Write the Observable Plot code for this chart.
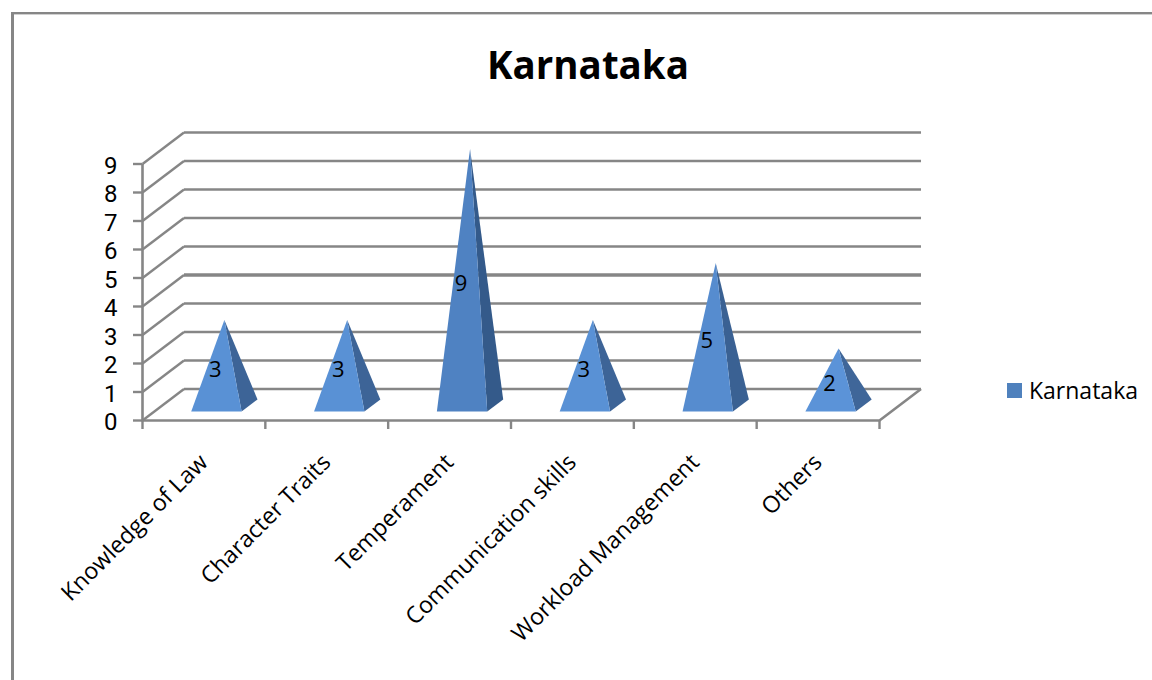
<!DOCTYPE html>
<html>
<head>
<meta charset="utf-8">
<script src="https://cdn.jsdelivr.net/npm/d3@7"></script>
<script src="https://cdn.jsdelivr.net/npm/@observablehq/plot@0.6"></script>
<style>
html,body{margin:0;padding:0;background:#fff;overflow:hidden;width:1152px;height:680px;font-family:"Open Sans",sans-serif}
#frame{position:absolute;left:11px;top:12px;width:1160px;height:700px;border-left:3px solid #868686;border-top:2px solid #868686;box-shadow:inset 0 1px 0 #d0d0d0}
#title{position:absolute;left:0;top:36px;width:1176px;text-align:center;font-size:38.5px;font-weight:700;color:#000;line-height:56px;height:56px;margin:0}
#chart{position:absolute;left:0;top:100px}
#legend{position:absolute;left:1007px;top:376px;display:flex;align-items:center;font-size:23px;color:#000;line-height:28px}
#legend i{display:block;width:15px;height:15px;background:#4f81bd;margin-right:7px}
</style>
</head>
<body>
<div id="frame"></div>
<h1 id="title">Karnataka</h1>
<div id="chart"></div>
<div id="legend"><i></i><span>Karnataka</span></div>
<script>
const seriesName = "Karnataka";
const categories = ["Knowledge of Law", "Character Traits", "Temperament", "Communication skills", "Workload Management", "Others"];
const values = [3, 3, 9, 3, 5, 2];
const yTicks = [0, 1, 2, 3, 4, 5, 6, 7, 8, 9];
const xEdges = [0, 1, 2, 3, 4, 5, 6];

// Oblique 3D: depth (0..1) is sheared into the x and y data units.
const depthX = 41.5 / 122.8;
const depthY = 31.5 / 28.5;
const project = (x, y, z) => ({x: x + z * depthX, y: y + z * depthY});

const barLeft = 0.30, barRight = 0.71, barFront = 0.286, barBack = 0.67;
const barMid = (barLeft + barRight) / 2, barCentre = (barFront + barBack) / 2;

const frontTone = d3.scaleLinear([2, 9], ["#5b93d8", "#4f82c2"]);
const sideTone = d3.scaleLinear([2, 9], ["#3f6699", "#345a8a"]);

const grid = "#868686";
const marks = [];

// back wall and side wall gridlines
for (const t of yTicks) {
  const w = t === 4 ? 3.6 : 2.6;
  if (t > 0) marks.push(Plot.line([project(0, t, 1), project(6, t, 1)], {x: "x", y: "y", stroke: grid, strokeWidth: w, strokeLinecap: "butt"}));
  marks.push(Plot.line([project(0, t, 0), project(0, t, 1)], {x: "x", y: "y", stroke: grid, strokeWidth: 2.4, strokeLinecap: "butt"}));
}
// floor edges and left axis line
marks.push(Plot.line([project(0, 0, 1), project(6, 0, 1)], {x: "x", y: "y", stroke: grid, strokeWidth: 2.6, strokeLinecap: "butt"}));
marks.push(Plot.line([project(6, 0, 1), project(6, 0, 0), project(0, 0, 0), project(0, 9, 0)], {x: "x", y: "y", stroke: grid, strokeWidth: 2.6, strokeLinecap: "butt"}));
marks.push(Plot.axisY({ticks: yTicks, tickSize: 9, text: null, stroke: grid, strokeWidth: 2.4, label: null}));
marks.push(Plot.text(yTicks, {x: () => 0, y: d => d, text: d => String(d), textAnchor: "end", fontSize: 24, fontFamily: "Roboto", fill: "#000", dx: -25, dy: 2}));
marks.push(Plot.axisX({ticks: xEdges, tickSize: 9, text: null, stroke: grid, strokeWidth: 2.4, label: null}));

// pyramids
values.forEach((v, i) => {
  const l = i + barLeft, r = i + barRight, m = i + barMid;
  const apex = project(m, v, barCentre);
  marks.push(Plot.line([project(r, 0, barFront), project(r, 0, barBack), apex], {x: "x", y: "y", fill: sideTone(v), stroke: "none"}));
  marks.push(Plot.line([project(l, 0, barFront), project(r, 0, barFront), apex], {x: "x", y: "y", fill: frontTone(v), stroke: "none"}));
});

// data labels
const labelRows = values.map((v, i) => ({...project(i + barMid, v / 2, barFront), v}));
marks.push(Plot.text(labelRows, {x: "x", y: "y", text: d => String(d.v), fontSize: 22, fill: "#000", dy: 1, dx: -1}));

// rotated category labels
const catRows = categories.map((c, i) => ({x: i + 0.5, y: 0, c}));
marks.push(Plot.text(catRows, {x: "x", y: "y", text: "c", rotate: -45, textAnchor: "end", fontSize: 23.2, fill: "#000", dy: 38, dx: 0}));

const chart = Plot.plot({
  width: 1152,
  height: 580,
  marginLeft: 142,
  marginRight: 273,
  marginTop: 63.5,
  marginBottom: 260,
  x: {domain: [0, 6]},
  y: {domain: [0, 9]},
  style: {fontFamily: '"Open Sans", sans-serif', background: "transparent", overflow: "visible"},
  marks
});
document.getElementById("chart").append(chart);
</script>
</body>
</html>
